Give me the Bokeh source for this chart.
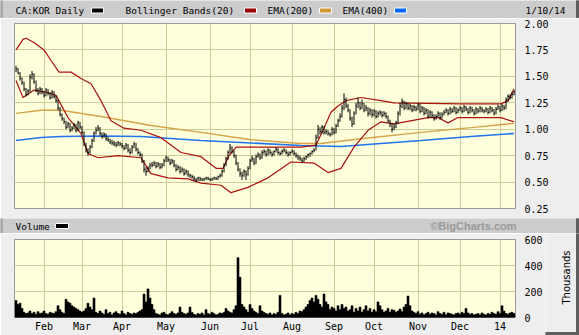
from math import pi
from bokeh.plotting import figure
from bokeh.layouts import column, row
from bokeh.models import Range1d, FixedTicker, NumeralTickFormatter, BoxAnnotation
from bokeh.core.properties import value
from bokeh.embed import file_html
from bokeh.resources import INLINE

# ---------------- data ----------------
month_labels = ["Feb", "Mar", "Apr", "May", "Jun", "Jul", "Aug", "Sep", "Oct", "Nov", "Dec", "14"]
month_pos = [14, 33, 53, 75, 97, 117, 138, 159, 179, 201, 222, 242]   # trading-day index of month start
price_ticks = [0.25, 0.50, 0.75, 1.00, 1.25, 1.50, 1.75, 2.00]
vol_ticks = [0, 200, 400, 600]

high = [
    1.60, 1.58, 1.54, 1.49, 1.45, 1.39, 1.38, 1.52, 1.55, 1.53,
    1.46, 1.39, 1.40, 1.39, 1.36, 1.39, 1.38, 1.35, 1.37, 1.36,
    1.32, 1.28, 1.21, 1.15, 1.11, 1.08, 1.07, 1.06, 1.03, 1.06,
    1.05, 1.08, 1.07, 1.03, 0.98, 0.87, 0.82, 0.85, 0.91, 0.98,
    1.02, 1.04, 1.02, 0.97, 0.97, 0.96, 0.93, 0.91, 0.90, 0.89,
    0.88, 0.89, 0.88, 0.87, 0.85, 0.87, 0.86, 0.82, 0.85, 0.88,
    0.87, 0.82, 0.79, 0.77, 0.71, 0.64, 0.65, 0.68, 0.69, 0.70,
    0.69, 0.69, 0.68, 0.68, 0.72, 0.75, 0.74, 0.72, 0.72, 0.71,
    0.67, 0.66, 0.65, 0.64, 0.63, 0.62, 0.61, 0.58, 0.57, 0.56,
    0.54, 0.55, 0.55, 0.54, 0.54, 0.55, 0.55, 0.54, 0.54, 0.55,
    0.55, 0.56, 0.58, 0.62, 0.68, 0.74, 0.80, 0.86, 0.84, 0.80,
    0.76, 0.69, 0.63, 0.60, 0.62, 0.61, 0.65, 0.72, 0.75, 0.73,
    0.76, 0.78, 0.77, 0.80, 0.81, 0.80, 0.82, 0.81, 0.79, 0.80,
    0.83, 0.82, 0.79, 0.81, 0.82, 0.81, 0.79, 0.79, 0.81, 0.80,
    0.78, 0.76, 0.75, 0.73, 0.74, 0.75, 0.77, 0.78, 0.80, 0.82,
    0.95, 1.04, 1.02, 1.04, 1.03, 1.00, 0.99, 0.97, 1.02, 1.01,
    1.05, 1.10, 1.15, 1.23, 1.34, 1.30, 1.24, 1.19, 1.12, 1.17,
    1.25, 1.30, 1.26, 1.28, 1.25, 1.23, 1.21, 1.20, 1.19, 1.19,
    1.18, 1.17, 1.18, 1.17, 1.17, 1.16, 1.13, 1.09, 1.06, 1.05,
    1.08, 1.17, 1.25, 1.29, 1.27, 1.26, 1.25, 1.24, 1.23, 1.23,
    1.22, 1.25, 1.24, 1.22, 1.21, 1.20, 1.19, 1.18, 1.17, 1.14,
    1.14, 1.17, 1.16, 1.16, 1.18, 1.20, 1.19, 1.21, 1.20, 1.22,
    1.21, 1.20, 1.22, 1.21, 1.23, 1.22, 1.20, 1.22, 1.21, 1.19,
    1.21, 1.20, 1.22, 1.21, 1.19, 1.21, 1.20, 1.22, 1.21, 1.19,
    1.21, 1.23, 1.22, 1.24, 1.23, 1.30, 1.33, 1.33, 1.35, 1.37,
]
low = [
    1.54, 1.52, 1.46, 1.42, 1.36, 1.31, 1.32, 1.35, 1.47, 1.43,
    1.35, 1.32, 1.33, 1.33, 1.30, 1.31, 1.32, 1.28, 1.29, 1.29,
    1.25, 1.18, 1.12, 1.08, 1.05, 1.00, 1.01, 0.97, 0.98, 1.00,
    0.97, 0.98, 1.00, 0.95, 0.84, 0.78, 0.75, 0.77, 0.82, 0.88,
    0.95, 0.98, 0.94, 0.91, 0.92, 0.89, 0.88, 0.86, 0.85, 0.84,
    0.83, 0.84, 0.84, 0.82, 0.80, 0.81, 0.78, 0.76, 0.77, 0.82,
    0.79, 0.76, 0.74, 0.68, 0.59, 0.56, 0.59, 0.62, 0.64, 0.65,
    0.63, 0.64, 0.62, 0.63, 0.65, 0.69, 0.69, 0.66, 0.67, 0.64,
    0.60, 0.61, 0.58, 0.59, 0.56, 0.57, 0.55, 0.54, 0.53, 0.51,
    0.50, 0.51, 0.51, 0.51, 0.51, 0.52, 0.52, 0.51, 0.51, 0.52,
    0.52, 0.52, 0.54, 0.55, 0.59, 0.65, 0.71, 0.77, 0.77, 0.73,
    0.66, 0.60, 0.55, 0.52, 0.55, 0.52, 0.56, 0.62, 0.69, 0.66,
    0.67, 0.73, 0.71, 0.72, 0.76, 0.74, 0.75, 0.76, 0.74, 0.75,
    0.78, 0.76, 0.75, 0.76, 0.78, 0.76, 0.74, 0.75, 0.77, 0.75,
    0.73, 0.71, 0.70, 0.68, 0.69, 0.71, 0.73, 0.74, 0.76, 0.78,
    0.80, 0.91, 0.95, 0.96, 0.95, 0.95, 0.94, 0.93, 0.94, 0.95,
    0.96, 1.02, 1.07, 1.11, 1.18, 1.20, 1.16, 1.08, 1.02, 1.04,
    1.14, 1.20, 1.18, 1.19, 1.16, 1.17, 1.12, 1.13, 1.11, 1.12,
    1.10, 1.11, 1.13, 1.11, 1.12, 1.10, 1.06, 1.02, 0.97, 0.99,
    1.01, 1.05, 1.13, 1.20, 1.18, 1.19, 1.18, 1.18, 1.16, 1.17,
    1.17, 1.18, 1.15, 1.16, 1.13, 1.14, 1.10, 1.11, 1.11, 1.08,
    1.09, 1.11, 1.09, 1.10, 1.13, 1.15, 1.13, 1.14, 1.15, 1.16,
    1.14, 1.15, 1.17, 1.15, 1.16, 1.17, 1.14, 1.15, 1.16, 1.13,
    1.14, 1.15, 1.16, 1.16, 1.15, 1.16, 1.14, 1.15, 1.16, 1.13,
    1.14, 1.18, 1.16, 1.17, 1.18, 1.19, 1.26, 1.28, 1.29, 1.32,
]
close = [
    1.57, 1.53, 1.48, 1.44, 1.38, 1.33, 1.36, 1.49, 1.52, 1.45,
    1.37, 1.34, 1.38, 1.35, 1.32, 1.37, 1.34, 1.30, 1.35, 1.31,
    1.27, 1.20, 1.14, 1.10, 1.07, 1.02, 1.05, 0.99, 1.01, 1.04,
    0.99, 1.06, 1.02, 0.97, 0.86, 0.80, 0.78, 0.83, 0.89, 0.96,
    0.99, 1.01, 0.96, 0.93, 0.95, 0.91, 0.90, 0.88, 0.87, 0.86,
    0.85, 0.87, 0.86, 0.84, 0.82, 0.85, 0.80, 0.78, 0.83, 0.86,
    0.81, 0.78, 0.76, 0.70, 0.62, 0.60, 0.63, 0.66, 0.66, 0.68,
    0.65, 0.67, 0.64, 0.66, 0.70, 0.73, 0.71, 0.68, 0.70, 0.66,
    0.62, 0.64, 0.60, 0.62, 0.58, 0.60, 0.57, 0.56, 0.55, 0.53,
    0.52, 0.54, 0.53, 0.52, 0.53, 0.54, 0.53, 0.52, 0.53, 0.54,
    0.53, 0.55, 0.56, 0.60, 0.66, 0.72, 0.78, 0.82, 0.79, 0.75,
    0.68, 0.62, 0.58, 0.56, 0.60, 0.57, 0.63, 0.70, 0.72, 0.68,
    0.74, 0.76, 0.73, 0.78, 0.79, 0.76, 0.80, 0.78, 0.76, 0.79,
    0.81, 0.78, 0.77, 0.79, 0.80, 0.78, 0.76, 0.78, 0.79, 0.77,
    0.75, 0.73, 0.72, 0.70, 0.72, 0.74, 0.76, 0.77, 0.79, 0.80,
    0.92, 1.00, 0.98, 1.02, 0.97, 0.98, 0.96, 0.95, 1.00, 0.97,
    1.03, 1.08, 1.12, 1.20, 1.28, 1.22, 1.18, 1.10, 1.05, 1.15,
    1.22, 1.25, 1.20, 1.24, 1.18, 1.20, 1.15, 1.18, 1.14, 1.17,
    1.12, 1.15, 1.16, 1.13, 1.15, 1.12, 1.08, 1.05, 1.00, 1.02,
    1.06, 1.15, 1.22, 1.26, 1.20, 1.24, 1.20, 1.22, 1.18, 1.21,
    1.19, 1.23, 1.17, 1.20, 1.15, 1.18, 1.12, 1.16, 1.13, 1.10,
    1.12, 1.15, 1.11, 1.14, 1.16, 1.18, 1.15, 1.19, 1.17, 1.20,
    1.16, 1.18, 1.20, 1.17, 1.21, 1.19, 1.16, 1.20, 1.18, 1.15,
    1.19, 1.17, 1.20, 1.18, 1.17, 1.19, 1.16, 1.20, 1.18, 1.15,
    1.19, 1.21, 1.18, 1.22, 1.20, 1.28, 1.31, 1.30, 1.33, 1.35,
]
volume = [  # thousands
    130, 100, 110, 70, 40, 30, 35, 50, 30, 40,
    25, 45, 30, 35, 50, 30, 25, 40, 35, 30,
    45, 90, 60, 40, 30, 140, 120, 110, 90, 80,
    70, 60, 50, 40, 50, 70, 110, 80, 60, 150,
    40, 30, 50, 35, 25, 60, 30, 40, 20, 35,
    45, 30, 25, 50, 30, 20, 40, 30, 25, 35,
    30, 40, 50, 60, 180, 120, 220, 150, 100, 60,
    30, 25, 20, 35, 40, 25, 20, 30, 45, 30,
    25, 35, 80, 40, 30, 25, 35, 80, 40, 25,
    20, 30, 25, 35, 20, 60, 30, 25, 40, 30,
    20, 25, 35, 30, 40, 70, 50, 40, 35, 60,
    90, 460, 310, 100, 80, 60, 40, 100, 70, 50,
    40, 30, 90, 50, 40, 30, 25, 35, 20, 30,
    25, 40, 170, 30, 20, 25, 35, 20, 30, 25,
    40, 30, 50, 45, 60, 80, 100, 130, 150, 120,
    170, 140, 100, 80, 180, 120, 100, 60, 80, 70,
    50, 90, 60, 100, 70, 80, 50, 60, 90, 40,
    70, 50, 80, 40, 60, 90, 50, 70, 40, 60,
    45, 120, 90, 60, 40, 50, 70, 40, 60, 55,
    40, 50, 65, 45, 80, 100, 165, 90, 50, 40,
    30, 45, 25, 35, 20, 30, 40, 25, 35, 30,
    20, 45, 30, 25, 40, 20, 35, 30, 25, 20,
    30, 35, 25, 40, 30, 70, 35, 25, 30, 20,
    25, 30, 20, 35, 25, 20, 30, 25, 40, 30,
    25, 45, 30, 90, 50, 30, 25, 35, 40, 30,
]

bb_upper_x = [0, 3.5, 5, 9, 14, 17.5, 21.5, 27.5, 32.5, 37.5, 42.5, 47.5, 54, 62.5, 72.5, 82.5,
              92.5, 100, 103.5, 106.5, 110, 122.5, 142.5, 150, 153.5, 157.5, 161, 165, 172.5,
              182.5, 189, 222.5, 242.5, 246, 249]
bb_upper = [1.75, 1.85, 1.86, 1.82, 1.75, 1.65, 1.54, 1.54, 1.48, 1.43, 1.27, 1.08, 1.01, 0.99, 0.92, 0.78,
            0.74, 0.63, 0.63, 0.75, 0.83, 0.83, 0.83, 0.85, 0.99, 1.16, 1.22, 1.27, 1.30,
            1.27, 1.25, 1.24, 1.24, 1.27, 1.38]
bb_lower_x = [0, 3.5, 9, 15, 20, 26, 32.5, 36, 41, 51, 62.5, 67.5, 76, 86, 92.5, 102.5, 107.5, 116,
              126, 137.5, 149, 156, 162.5, 169, 176, 182.5, 189, 206, 211, 216, 221, 242.5, 249]
bb_lower = [1.46, 1.30, 1.37, 1.35, 1.32, 1.11, 0.96, 0.77, 0.73, 0.75, 0.73, 0.58, 0.54, 0.53, 0.49, 0.47, 0.40, 0.45,
            0.54, 0.69, 0.68, 0.59, 0.63, 0.83, 0.99, 1.07, 1.05, 1.11, 1.11, 1.06, 1.11, 1.11, 1.07]
ema200_x = [0, 12.5, 22.5, 42.5, 67.5, 92.5, 117.5, 142.5, 152.5, 172.5, 202.5, 227.5, 249]
ema200 = [1.15, 1.18, 1.18, 1.12, 1.035, 0.97, 0.90, 0.865, 0.865, 0.91, 0.97, 1.015, 1.055]
ema400_x = [0, 12.5, 22.5, 42.5, 62.5, 77.5, 92.5, 112.5, 142.5, 162.5, 182.5, 202.5, 227.5, 249]
ema400 = [0.893, 0.922, 0.931, 0.936, 0.931, 0.912, 0.893, 0.874, 0.846, 0.837, 0.865, 0.893, 0.931, 0.96]

assert len(high) == len(low) == len(close) == len(volume) == 250
days = list(range(len(close)))
tick_end = [d + 0.5 for d in days]

# ---------------- styling ----------------
BG = "#eeeeee"
BAND = "#cccccc"
PLOT_BG = "#ffffdc"
GRID = "#cccc99"
EDGE = "#5f5f5f"
MONO = "DejaVu Sans Mono"
XR = Range1d(-0.75, 249.75)


def no_align(p):
    if "frame_align" in p.properties():
        p.frame_align = False
    return p


def panel(w, h, x0, x1, y0, y1, fill):
    """A plain figure whose frame covers the whole canvas (pixel coordinates)."""
    b = figure(width=w, height=h, x_range=Range1d(x0, x1), y_range=Range1d(y1, y0),
               output_backend="svg", toolbar_location=None, min_border=0,
               x_axis_location=None, y_axis_location=None)
    b.grid.visible = False
    b.outline_line_color = None
    b.background_fill_color = fill
    b.border_fill_color = BG
    return no_align(b)


def band(h):
    b = panel(579, h, 0, 579, 0, h, BAND)
    b.quad(left=[0], right=[2], top=[0], bottom=[h], color="#a8a8a8")
    b.quad(left=[576], right=[579], top=[0], bottom=[h], color=EDGE)
    return b


# header with legend
h1 = band(18)
h1.text(x=[15, 125, 267, 342], y=[9.5] * 4,
        text=["CA:KOR Daily", "Bollinger Bands(20)", "EMA(200)", "EMA(400)"],
        text_font=value(MONO), text_font_size="9.5px", text_baseline="middle", text_color="black")
h1.text(x=[565], y=[9.5], text=["1/10/14"], text_font=value(MONO), text_font_size="9.5px",
        text_baseline="middle", text_align="right", text_color="black")
h1.quad(left=[91, 244, 319, 394], right=[103, 256, 331, 406], top=[7.5] * 4, bottom=[12.5] * 4,
        fill_color=["#000000", "#990000", "#cc9933", "#0066ff"], line_color="white", line_width=1)

# price panel
p1 = no_align(figure(width=579, height=200, x_range=XR, y_range=Range1d(0.25, 2.0),
                     output_backend="svg", toolbar_location=None,
                     min_border_left=14, min_border_right=64, min_border_top=5, min_border_bottom=10,
                     x_axis_location=None, y_axis_location="right"))
p1.background_fill_color = PLOT_BG
p1.border_fill_color = BG
p1.outline_line_color = "#999999"
p1.yaxis.ticker = FixedTicker(ticks=price_ticks)
p1.yaxis.formatter = NumeralTickFormatter(format="0.00")
p1.ygrid.ticker = FixedTicker(ticks=price_ticks)
p1.xgrid.ticker = FixedTicker(ticks=month_pos)
p1.grid.grid_line_color = GRID
p1.grid.grid_line_width = 1

p1.line(ema400_x, ema400, line_color="#1f74f0", line_width=1.6)
p1.line(ema200_x, ema200, line_color="#d3a24a", line_width=1.4)
p1.line(bb_upper_x, bb_upper, line_color="#aa1111", line_width=1.2)
p1.line(bb_lower_x, bb_lower, line_color="#aa1111", line_width=1.2)
p1.segment(x0=days, y0=low, x1=days, y1=high, line_color="black", line_width=1)
p1.segment(x0=days, y0=close, x1=tick_end, y1=close, line_color="black", line_width=1)

# volume header
h2 = band(15)
h2.text(x=[15], y=[7.5], text=["Volume"], text_font=value(MONO), text_font_size="9.5px",
        text_baseline="middle", text_color="black")
h2.quad(left=[55], right=[68], top=[5], bottom=[10], fill_color="black", line_color="white")
h2.text(x=[516], y=[7.5], text=["©BigCharts.com"], text_font=value("Liberation Sans"),
        text_font_size="11px", text_font_style="bold", text_baseline="middle", text_align="right",
        text_color="#9a9a9a")

# volume panel
p2 = no_align(figure(width=545, height=102, x_range=XR, y_range=Range1d(0, 600),
                     output_backend="svg", toolbar_location=None,
                     min_border_left=14, min_border_right=30, min_border_top=6, min_border_bottom=18,
                     y_axis_location="right"))
p2.background_fill_color = PLOT_BG
p2.border_fill_color = BG
p2.outline_line_color = "#999999"
p2.yaxis.ticker = FixedTicker(ticks=vol_ticks)
p2.xaxis.ticker = FixedTicker(ticks=month_pos)
p2.xaxis.major_label_overrides = {m: l for m, l in zip(month_pos, month_labels)}
p2.grid.grid_line_color = GRID
p2.vbar(x=days, top=volume, width=1.0, fill_color="black", line_color="black", line_width=0.6)

for ax in (p1.yaxis[0], p2.yaxis[0], p2.xaxis[0]):
    ax.axis_line_color = None
    ax.major_tick_line_color = None
    ax.minor_tick_line_color = None
    ax.major_tick_out = 0
    ax.major_tick_in = 0
    ax.major_label_text_font = MONO
    ax.major_label_text_font_size = "10px"
    ax.major_label_text_color = "black"
p1.yaxis.major_label_standoff = 9
p2.yaxis.major_label_standoff = 9
p2.xaxis.major_label_standoff = 3

# right strip of the volume panel with the unit label
s = panel(34, 102, 545, 579, 233, 335, BG)
s.text(x=[566], y=[277], text=["Thousands"], angle=pi / 2, text_font=value("DejaVu Sans"),
       text_font_size="10px", text_align="center", text_baseline="middle", text_color="black")
s.quad(left=[576], right=[579], top=[233], bottom=[335], color=EDGE)
s.quad(left=[545], right=[579], top=[332], bottom=[335], color=EDGE)

# outer frame lines beside the plot areas
p1.add_layout(BoxAnnotation(left=-7.75, right=-6.75, bottom=0.0, top=2.2,
                            fill_color="#a8a8a8", fill_alpha=1, line_color=None))
p1.add_layout(BoxAnnotation(left=280.25, right=281.75, bottom=0.0, top=2.2,
                            fill_color=EDGE, fill_alpha=1, line_color=None))
p2.add_layout(BoxAnnotation(left=-7.75, right=-6.75, bottom=-150, top=700,
                            fill_color="#a8a8a8", fill_alpha=1, line_color=None))
p2.add_layout(BoxAnnotation(left=-8, right=282, bottom=-140, top=-116,
                            fill_color=EDGE, fill_alpha=1, line_color=None))

layout = column(h1, p1, h2, row(p2, s, spacing=0), spacing=0)
open("out.html", "w").write(file_html(layout, INLINE))
